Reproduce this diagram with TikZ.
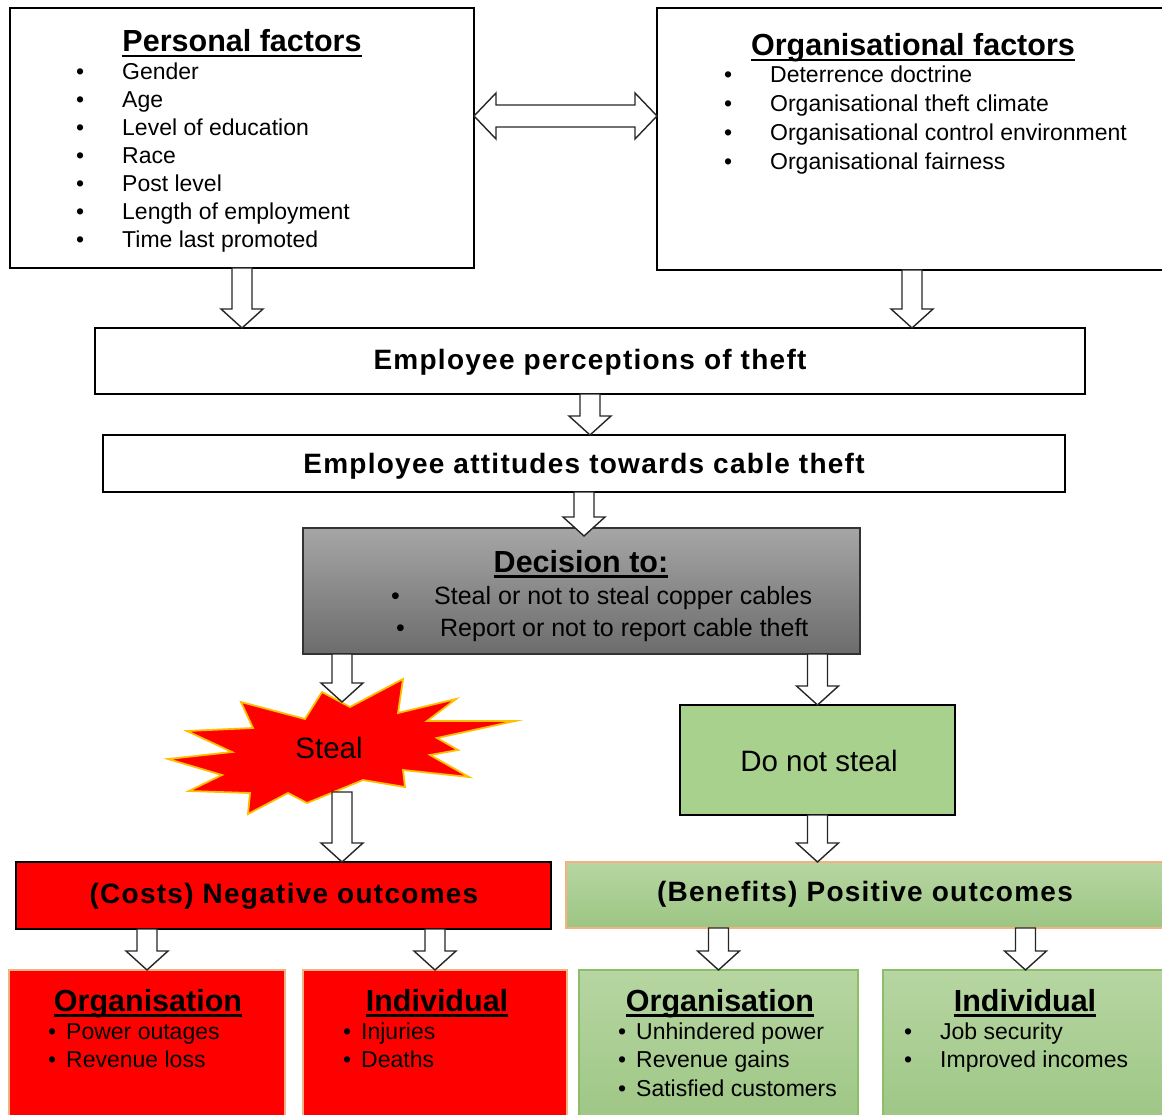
\documentclass[tikz,border=0pt]{standalone}
\usepackage{fontspec}
\setmainfont{Liberation Sans}
\usetikzlibrary{calc}

\definecolor{myred}{RGB}{255,0,0}
\definecolor{gtop}{RGB}{183,214,162}
\definecolor{gbot}{RGB}{156,197,131}
\definecolor{dnsgreen}{RGB}{169,209,142}
\definecolor{orangeln}{RGB}{244,177,131}
\definecolor{greenln}{RGB}{140,190,105}
\definecolor{gradtop}{RGB}{166,166,166}
\definecolor{gradbot}{RGB}{108,108,108}
\definecolor{glow}{RGB}{255,190,0}

\newcommand\myul[1]{\leavevmode\setbox0=\hbox{#1}\rlap{\rule[-5.5pt]{\wd0}{2.3pt}}\box0}
\newcommand\fT{\fontsize{30.5}{36}\selectfont\bfseries}
\newcommand\fI{\fontsize{23}{28}\selectfont}
\newcommand\fD{\fontsize{25}{30}\selectfont}
\newcommand\fH{\fontsize{28}{33}\selectfont\bfseries\addfontfeature{LetterSpace=4.5}}
\newcommand\fS{\fontsize{29.5}{35}\selectfont}

\tikzset{
  box/.style={draw=black, line width=2.6pt, fill=white, anchor=north west, inner sep=0pt, outer sep=0pt},
  thinred/.style={box, fill=myred, draw=orangeln, line width=1.5pt},
  thingreen/.style={box, top color=gtop, bottom color=gbot, draw=greenln, line width=1.5pt},
  tx/.style={inner sep=0pt, anchor=base west},
  tc/.style={inner sep=0pt, anchor=base},
  barrow/.style={draw=black!85, line width=1.4pt, fill=white,
    to path={let \p1=(\tikztostart), \p2=(\tikztotarget) in
      (\x1-10pt,\y1) -- (\x1-10pt,\y2+19pt) -- (\x1-21pt,\y2+19pt) -- (\x1,\y2)
      -- (\x1+21pt,\y2+19pt) -- (\x1+10pt,\y2+19pt) -- (\x1+10pt,\y1) -- cycle}},
  dblarrow/.style={draw=black!85, line width=1.4pt, fill=white,
    to path={let \p1=(\tikztostart), \p2=(\tikztotarget) in
      (\x1,\y1) -- (\x1+22pt,\y1+23pt) -- (\x1+22pt,\y1+11pt) -- (\x2-22pt,\y1+11pt)
      -- (\x2-22pt,\y1+23pt) -- (\x2,\y1) -- (\x2-22pt,\y1-23pt) -- (\x2-22pt,\y1-11pt)
      -- (\x1+22pt,\y1-11pt) -- (\x1+22pt,\y1-23pt) -- cycle}}
}

\begin{document}
\begin{tikzpicture}[x=1pt,y=-1pt]
\useasboundingbox (0,0) rectangle (1162,1115);

% boxes
\node[box, minimum width=464pt, minimum height=260pt] (pers) at (10,8) {};
\node[box, minimum width=510pt, minimum height=262pt] (org) at (657,8) {};
\node[box, minimum width=990pt, minimum height=66pt] (perc) at (95,328) {};
\node[box, minimum width=962pt, minimum height=57pt] (att) at (103,435) {};
\node[box, top color=gradtop, bottom color=gradbot, draw=black!80, line width=1.3pt,
      minimum width=557pt, minimum height=126pt] (dec) at (303,528) {};
\node[box, fill=dnsgreen, minimum width=275pt, minimum height=110pt] (dns) at (680,705) {};
\node[box, fill=myred, minimum width=535pt, minimum height=67pt] (costs) at (16,862) {};
\node[box, top color=gtop, bottom color=gbot, draw=orangeln, line width=1.5pt,
      minimum width=600pt, minimum height=66pt] (ben) at (566,862) {};
\node[thinred, minimum width=276pt, minimum height=160pt] (orgR) at (9,970) {};
\node[thinred, minimum width=264pt, minimum height=160pt] (indR) at (303,970) {};
\node[thingreen, minimum width=279pt, minimum height=160pt] (orgG) at (579,970) {};
\node[thingreen, minimum width=285pt, minimum height=160pt] (indG) at (883,970) {};

% steal star
\filldraw[fill=myred, draw=glow, line width=1.8pt, line join=miter]
  (403,679) -- (398,713) -- (456,699) -- (427,721) -- (515,721) -- (437,738)
  -- (458,750) -- (430,755) -- (469,777) -- (403,770) -- (405,787) -- (363,780)
  -- (307,803) -- (288,793) -- (248,814) -- (250,793) -- (189,791) -- (222,775)
  -- (168,759) -- (232,752) -- (187,731) -- (253,728) -- (241,702) -- (305,719)
  -- (322,692) -- (350,707) -- cycle;
\coordinate (stealtop) at (342,702);
\coordinate (stealbot) at (342,792);

% arrows
\draw[dblarrow] ([yshift=22pt]pers.east) to (org.west);
\draw[barrow] (pers.south) to (pers.south |- perc.north);
\draw[barrow] (org.south) to (org.south |- perc.north);
\draw[barrow] (perc.south) to (perc.south |- att.north);
\draw[barrow] (att.south) to ([yshift=-8pt]att.south |- dec.north);
\draw[barrow] (dec.south -| stealtop) to (stealtop);
\draw[barrow] (dec.south -| dns.north) to (dns.north);
\draw[barrow] (stealbot) to (stealbot |- costs.north);
\draw[barrow] (dns.south) to (dns.south |- ben.north);
\draw[barrow] (costs.south -| orgR.north) to (orgR.north);
\draw[barrow] (costs.south -| indR.north) to (indR.north);
\draw[barrow] (ben.south -| orgG.north) to (orgG.north);
\draw[barrow] (ben.south -| indG.north) to (indG.north);

% texts: personal factors
\node[tc] (persT) at (242,52) {\fT\myul{Personal factors}};
\foreach \t [count=\i] in {Gender,Age,Level of education,Race,Post level,Length of employment,Time last promoted}
  \node[tx] (pi\i) at (76,{80+28*(\i-1)}) {\fI\makebox[46pt][l]{\textbullet}\t};

% organisational factors
\node[tc] (orgT) at (913,56) {\fT\myul{Organisational factors}};
\foreach \t [count=\i] in {Deterrence doctrine,Organisational theft climate,Organisational control environment,Organisational fairness}
  \node[tx] (oi\i) at (724,{83+28.7*(\i-1)}) {\fI\makebox[46pt][l]{\textbullet}\t};

\node[tc] (percT) at (590,369) {\fH Employee perceptions of theft};
\node[tc] (attT) at (584,473) {\fH Employee attitudes towards cable theft};

% decision
\node[tc] (decT) at (581,572) {\fT\myul{Decision to:}};
\node[tx] (d1) at (391,604) {\fD\makebox[43pt][l]{\textbullet}Steal or not to steal copper cables};
\node[tx] (d2) at (396,636) {\fD\makebox[44pt][l]{\textbullet}Report or not to report cable theft};

\node[tc] (stealT) at (329,758) {\fS Steal};
\node[tc] (dnsT) at (819,771) {\fS Do not steal};

\node[tc] (costsT) at (284,903) {\fH (Costs) Negative outcomes};
\node[tc] (benT) at (865,901) {\fH (Benefits) Positive outcomes};

% bottom boxes
\node[tc] (orgRT) at (148,1011) {\fT\myul{Organisation}};
\node[tx] (r1) at (48,1039) {\fI\makebox[18pt][l]{\textbullet}Power outages};
\node[tx] (r2) at (48,1067) {\fI\makebox[18pt][l]{\textbullet}Revenue loss};

\node[tc] (indRT) at (437,1011) {\fT\myul{Individual}};
\node[tx] (s1) at (343,1039) {\fI\makebox[18pt][l]{\textbullet}Injuries};
\node[tx] (s2) at (343,1067) {\fI\makebox[18pt][l]{\textbullet}Deaths};

\node[tc] (orgGT) at (720,1011) {\fT\myul{Organisation}};
\node[tx] (g1) at (618,1039) {\fI\makebox[18pt][l]{\textbullet}Unhindered power};
\node[tx] (g2) at (618,1067) {\fI\makebox[18pt][l]{\textbullet}Revenue gains};
\node[tx] (g3) at (618,1096) {\fI\makebox[18pt][l]{\textbullet}Satisfied customers};

\node[tc] (indGT) at (1025,1011) {\fT\myul{Individual}};
\node[tx] (h1) at (904,1039) {\fI\makebox[36pt][l]{\textbullet}Job security};
\node[tx] (h2) at (904,1067) {\fI\makebox[36pt][l]{\textbullet}Improved incomes};
\end{tikzpicture}
\end{document}
